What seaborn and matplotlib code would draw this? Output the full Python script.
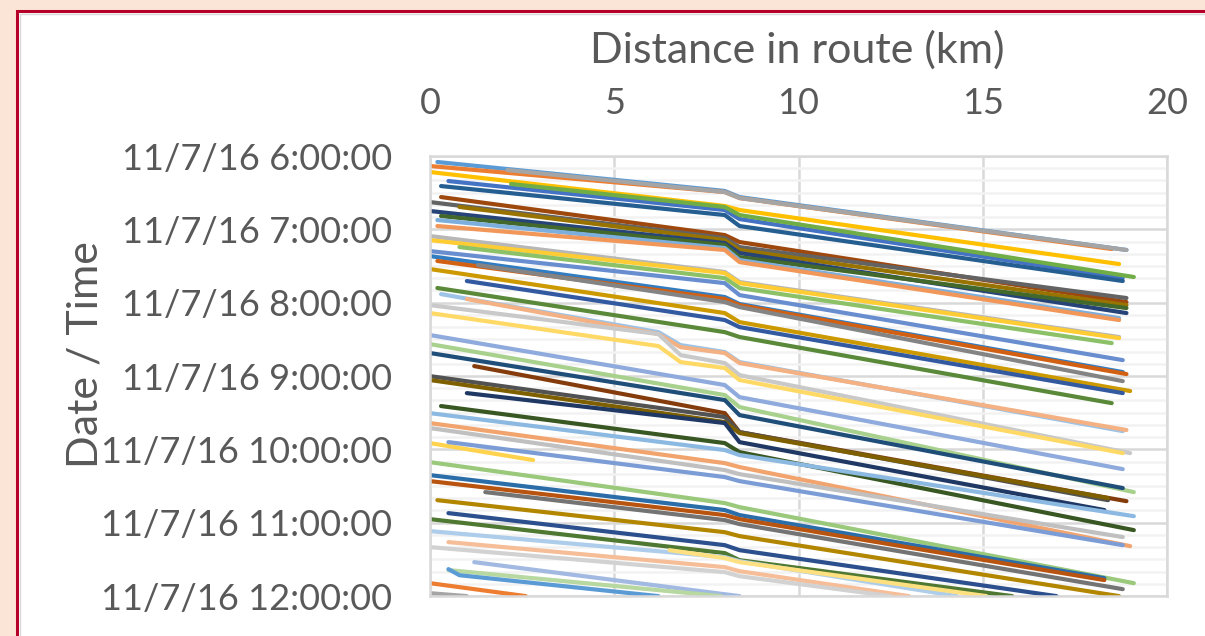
import pandas as pd
import matplotlib
matplotlib.use("Agg")
import matplotlib.pyplot as plt
import seaborn as sns
from matplotlib.patches import Rectangle
from matplotlib.ticker import MultipleLocator

# one entry per bus trip: distance along the route (km) and minutes after 6:00
trip_km = [
    [0.2, 8.0, 8.4, 18.9], [0.0, 8.0, 8.4, 18.5], [2.1, 8.0, 8.4, 18.9],
    [0.0, 8.0, 8.4, 18.7], [0.5, 8.0, 8.4, 18.8], [2.2, 8.0, 8.4, 19.1],
    [0.3, 8.0, 8.4, 18.8], [0.3, 8.0, 8.4, 18.9], [0.0, 8.0, 8.4, 18.9],
    [0.8, 8.0, 8.4, 18.9], [0.0, 8.0, 8.4, 18.9], [0.3, 8.0, 8.4, 18.9],
    [0.2, 8.0, 8.4, 18.7], [0.2, 8.0, 8.4, 18.7], [0.0, 8.0, 8.4, 18.7],
    [0.0, 8.0, 8.4, 18.7], [0.0, 8.0, 8.4, 18.8], [0.8, 8.0, 8.4, 18.5],
    [0.0, 8.0, 8.4, 18.8], [0.2, 8.0, 8.4, 18.9], [1.3, 8.0, 8.4, 18.8],
    [0.0, 8.0, 8.4, 19.0], [1.0, 8.0, 8.4, 18.8], [0.2, 8.0, 8.4, 18.5],
    [0.3, 6.2, 6.8, 8.0, 8.4, 18.8], [1.0, 6.2, 6.8, 8.0, 8.4, 18.9],
    [0.0, 6.2, 6.8, 8.0, 8.4, 19.0], [0.0, 6.2, 6.8, 8.0, 8.4, 18.8],
    [0.0, 8.0, 8.4, 18.8], [0.0, 8.0, 8.4, 19.1],
    [0.0, 8.0, 8.4, 18.8], [1.2, 8.0, 8.4, 18.9], [0.0, 8.0, 8.4, 18.4],
    [0.0, 8.0, 8.4, 18.4], [1.0, 8.0, 8.4, 18.3], [0.3, 8.0, 8.4, 19.1],
    [0.0, 8.0, 8.4, 19.1], [0.0, 8.0, 8.4, 19.0], [0.0, 8.0, 8.4, 18.8],
    [0.0, 2.8], [0.5, 8.0, 8.4, 18.8], [0.0, 8.0, 8.4, 19.1],
    [0.0, 8.0, 8.4, 18.3], [0.0, 8.0, 8.4, 18.3], [1.5, 8.0, 8.4, 18.8],
    [0.2, 8.0, 8.4, 18.7], [0.5, 8.0, 8.4, 17.0], [0.0, 8.0, 8.4, 15.8],
    [0.0, 8.0, 8.4, 14.3], [0.5, 8.0, 8.4, 13.0], [0.0, 8.0, 8.4, 12.5],
    [6.5, 8.0, 8.4, 15.1], [1.2, 8.4], [0.5, 7.9],
    [0.5, 0.8, 6.2], [0.0, 2.6], [0.0, 1.0],
]
trip_min = [
    [4.9, 28.6, 33.6, 76.9], [8.2, 29.5, 34.4, 76.1], [11.5, 29.5, 34.4, 76.9],
    [13.1, 40.9, 44.2, 88.4], [20.5, 44.2, 51.6, 99.9], [22.9, 41.7, 48.3, 99.0],
    [24.6, 48.3, 57.3, 102.3], [33.6, 64.7, 70.4, 119.5], [37.7, 67.1, 74.5, 116.2],
    [41.7, 68.8, 76.9, 122.0], [45.0, 71.2, 79.4, 128.5], [49.1, 72.8, 82.7, 124.4],
    [52.4, 75.3, 85.1, 132.6], [57.3, 76.9, 86.8, 134.2], [65.5, 94.9, 103.1, 148.1],
    [68.8, 95.8, 104.0, 149.0], [77.8, 104.0, 113.8, 167.0], [74.5, 99.9, 108.0, 153.1],
    [81.9, 115.4, 121.1, 176.8], [85.9, 117.0, 122.0, 178.4], [89.2, 119.5, 123.6, 184.2],
    [92.5, 128.5, 135.9, 192.3], [102.3, 134.2, 140.0, 194.0], [108.0, 144.1, 148.1, 202.2],
    [113.0, 144.1, 154.7, 160.4, 168.6, 225.1], [117.0, 145.7, 156.4, 161.2, 169.4, 224.2],
    [122.0, 145.7, 162.9, 169.4, 179.3, 243.1], [128.5, 155.5, 168.6, 173.5, 183.3, 243.1],
    [146.5, 187.4, 197.3, 256.2], [153.9, 195.6, 205.4, 275.0],
    [161.2, 199.7, 212.0, 271.7], [171.9, 210.4, 225.9, 282.4], [180.1, 213.6, 225.9, 281.6],
    [183.3, 217.7, 226.7, 279.9], [194.0, 218.5, 234.1, 289.7], [204.6, 234.9, 242.3, 306.1],
    [210.4, 240.6, 244.7, 294.7], [218.5, 251.3, 254.5, 319.2], [222.6, 257.0, 260.3, 311.8],
    [234.9, 248.8], [234.1, 262.7, 266.0, 318.4], [250.5, 284.0, 287.3, 349.5],
    [261.1, 289.7, 293.8, 345.4], [266.0, 293.8, 297.1, 347.0], [275.0, 297.9, 301.2, 354.4],
    [281.6, 307.8, 311.0, 360.1], [292.2, 318.4, 322.5, 360.1], [297.1, 324.9, 330.7, 360.1],
    [306.9, 328.2, 331.5, 360.1], [315.9, 336.4, 339.7, 360.1], [320.0, 340.5, 343.8, 360.1],
    [322.5, 329.0, 332.3, 360.1], [332.3, 360.1], [338.8, 360.1],
    [338.0, 343.0, 360.1], [349.5, 360.1], [357.7, 360.1],
]
trip_colors = [
    "#5B9BD5", "#ED7D31", "#A5A5A5", "#FFC000", "#4472C4", "#70AD47",
    "#255E91", "#9E480E", "#636363", "#997300", "#264478", "#43682B",
    "#7CAFDD", "#F1975A", "#B7B7B7", "#FFCD33", "#698ED0", "#8CC168",
    "#327DC2", "#D26012", "#848484", "#CC9A00", "#335AA1", "#5A8A39",
    "#9DC3E6", "#F4B183", "#C9C9C9", "#FFD966", "#8FAADC", "#A9D18E",
    "#1F4E79", "#843C0C", "#525252", "#7F6000", "#203864", "#385723",
    "#8CB9E1", "#F2A46F", "#C0C0C0", "#FFD34D", "#7C9CD6", "#9AC97B",
    "#2B6DA9", "#B85410", "#747474", "#B38600", "#2C4F8D", "#4F7932",
    "#ADCDEA", "#F6BE98", "#D2D2D2", "#FFE080", "#A2B9E2", "#B7D8A1",
    "#5B9BD5", "#ED7D31", "#A5A5A5",
]
hour_labels = ["11/7/16 6:00:00", "11/7/16 7:00:00", "11/7/16 8:00:00",
               "11/7/16 9:00:00", "11/7/16 10:00:00", "11/7/16 11:00:00",
               "11/7/16 12:00:00"]

rows = []
for i, (kms, mins) in enumerate(zip(trip_km, trip_min)):
    for k, m in zip(kms, mins):
        rows.append({"trip": f"trip {i:02d}", "km": k, "minutes": m})
df = pd.DataFrame(rows)
trip_names = [f"trip {i:02d}" for i in range(len(trip_km))]
palette = dict(zip(trip_names, trip_colors))

sns.set_style("white")
plt.rcParams["font.family"] = ["Lato", "DejaVu Sans"]
text_gray = "#595959"

fig = plt.figure(figsize=(12.05, 6.36), dpi=100, facecolor="#FBE5D6")
fig.patches.append(Rectangle((17 / 1205, -0.2), 1.2, 1.2 - 11 / 636,
                             transform=fig.transFigure, facecolor="white",
                             edgecolor="#B5002A", linewidth=2.2, zorder=-10))
fig.patches.append(Rectangle((19.5 / 1205, -0.2), 1.2, 1.2 - 13.5 / 636,
                             transform=fig.transFigure, facecolor="none",
                             edgecolor="#D9D9D9", linewidth=1.0, zorder=-9))
ax = fig.add_axes([430 / 1205, 1 - 596 / 636, 737 / 1205, 440 / 636])
ax.set_zorder(1)

sns.lineplot(data=df, x="km", y="minutes", hue="trip", hue_order=trip_names,
             palette=palette, estimator=None, sort=False, legend=False,
             linewidth=3.0, ax=ax)

ax.set_xlim(0, 20)
ax.set_ylim(360, 0)
ax.xaxis.tick_top()
ax.xaxis.set_label_position("top")
ax.set_xticks([0, 5, 10, 15, 20])
ax.set_yticks(range(0, 361, 60))
ax.set_yticklabels(hour_labels)
ax.yaxis.set_minor_locator(MultipleLocator(10))
ax.set_axisbelow(True)
ax.grid(which="minor", axis="y", color="#F2F2F2", linewidth=1.8)
ax.grid(which="major", color="#D9D9D9", linewidth=1.8)
for s in ax.spines.values():
    s.set_color("#D9D9D9")
    s.set_linewidth(1.8)
ax.tick_params(which="both", length=0, labelsize=26, labelcolor=text_gray)
ax.tick_params(axis="y", pad=27)
ax.tick_params(axis="x", pad=26)

ax.set_xlabel("Distance in route (km)", fontsize=31, color=text_gray)
ax.xaxis.set_label_coords(0.498, 1.24)
ax.xaxis.label.set_va("center")
ax.set_ylabel("Date / Time", fontsize=31, color=text_gray)
ax.yaxis.set_label_coords(-0.468, 0.548)
ax.yaxis.label.set_va("center")

fig.savefig("out.png", dpi=100, facecolor=fig.get_facecolor())
